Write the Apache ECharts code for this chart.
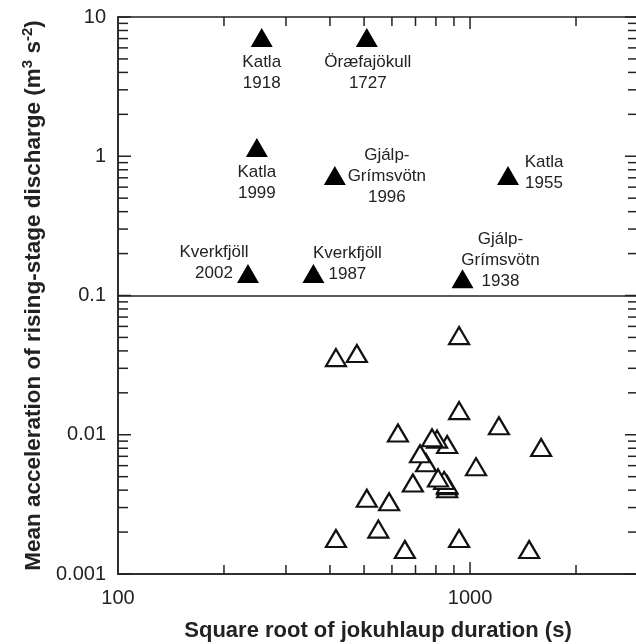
<!DOCTYPE html>
<html><head><meta charset="utf-8">
<script src="https://cdn.jsdelivr.net/npm/echarts@6/dist/echarts.min.js"></script>
<style>html,body{margin:0;padding:0;background:#fff}#c{width:636px;height:644px}</style>
</head><body><div id="c"></div>
<script>
// Named jokulhlaups (filled triangles)
const namedLabels = ['Katla\n1918', 'Öræfajökull\n1727', 'Katla\n1999', 'Gjálp-\nGrímsvötn\n1996', 'Katla\n1955', 'Kverkfjöll\n2002', 'Kverkfjöll\n1987', 'Gjálp-\nGrímsvötn\n1938'];
const namedX = [256, 509, 248, 413, 1282, 234, 359, 952];
const namedY = [7.13, 7.13, 1.156, 0.728, 0.728, 0.144, 0.144, 0.132];
// Other jokulhlaups (open triangles), listed back-to-front
const otherX = [861, 861, 861, 844, 811, 750, 721, 861, 806, 780, 416, 477, 931, 931, 1208, 624, 1592, 1040, 688, 509, 589, 549, 416, 931, 653, 1472];
const otherY = [0.0041, 0.0043, 0.0044, 0.0047, 0.0049, 0.0063, 0.0073, 0.0085, 0.0093, 0.0095, 0.0358, 0.0383, 0.0515, 0.0149, 0.0116, 0.0103, 0.0081, 0.0059, 0.0045, 0.0035, 0.0033, 0.0021, 0.0018, 0.0018, 0.0015, 0.0015];
// Axis ticks and labels
const xTickValues = [100, 1000];
const xTickLabels = ['100', '1000'];
const yTickValues = [0.001, 0.01, 0.1, 1, 10];
const yTickLabels = ['0.001', '0.01', '0.1', '1', '10'];
const xMinorTicks = [200, 300, 400, 500, 600, 700, 800, 900, 2000];
const xMajorTicks = [1000];
const yMajorTicks = [0.001, 0.01, 0.1, 1, 10];
const yMinorTicks = [0.002, 0.003, 0.004, 0.005, 0.006, 0.007, 0.008, 0.009,
  0.02, 0.03, 0.04, 0.05, 0.06, 0.07, 0.08, 0.09,
  0.2, 0.3, 0.4, 0.5, 0.6, 0.7, 0.8, 0.9,
  2, 3, 4, 5, 6, 7, 8, 9];
const thresholdY = 0.1;

// label layout (styling, offsets from symbol centre)
const labelOffsets = {
  'Katla\n1918': [0, 35], 'Öræfajökull\n1727': [1, 35], 'Katla\n1999': [0, 35],
  'Gjálp-\nGrímsvötn\n1996': [52, 1], 'Katla\n1955': [36, -3],
  'Kverkfjöll\n2002': [-34, -11], 'Kverkfjöll\n1987': [34, -10],
  'Gjálp-\nGrímsvötn\n1938': [38, -18]
};

const INK = '#222';
const FONT = 'Liberation Sans, Arial, sans-serif';
function matchLabel(v, vals, labs) {
  for (let i = 0; i < vals.length; i++) {
    if (Math.abs(Math.log10(vals[i]) - Math.log10(v)) < 1e-6) return labs[i];
  }
  return '';
}
function tickSeries(values, axis, len) {
  return {
    type: 'custom', coordinateSystem: 'cartesian2d', silent: true, z: 5,
    data: values.map(v => axis === 'x' ? [v, 1] : [100, v]),
    renderItem(params, api) {
      const cs = params.coordSys;
      const st = { stroke: INK, lineWidth: 1.5 };
      if (axis === 'x') {
        const px = api.coord([api.value(0), 1])[0];
        const b = cs.y + cs.height, t = cs.y;
        return { type: 'group', children: [
          { type: 'line', shape: { x1: px, y1: b, x2: px, y2: b - len }, style: st },
          { type: 'line', shape: { x1: px, y1: t, x2: px, y2: t + len }, style: st }
        ] };
      } else {
        const py = api.coord([100, api.value(1)])[1];
        const l = cs.x, r = cs.x + cs.width;
        return { type: 'group', children: [
          { type: 'line', shape: { x1: l, y1: py, x2: l + len, y2: py }, style: st },
          { type: 'line', shape: { x1: r, y1: py, x2: r - len, y2: py }, style: st }
        ] };
      }
    }
  };
}

const chart = echarts.init(document.getElementById('c'), null, { renderer: 'canvas' });
chart.setOption({
  backgroundColor: '#fff',
  animation: false,
  textStyle: { fontFamily: FONT },
  grid: { left: 118, top: 17, width: 520, height: 557, outerBoundsMode: 'none', containLabel: false,
    show: true, borderColor: INK, borderWidth: 1.5, backgroundColor: 'transparent' },
  xAxis: {
    type: 'log', logBase: 10, min: 100, max: 3000,
    name: 'Square root of jokuhlaup duration (s)', nameLocation: 'middle', nameGap: 46,
    nameTextStyle: { fontSize: 22, fontWeight: 'bold', color: INK, fontFamily: FONT },
    axisLine: { show: true, lineStyle: { color: INK, width: 1.5 } },
    axisTick: { show: false }, splitLine: { show: false },
    axisLabel: { fontSize: 20, color: INK, margin: 14, showMaxLabel: false,
      formatter: v => matchLabel(v, xTickValues, xTickLabels) }
  },
  yAxis: {
    type: 'log', logBase: 10, min: 0.001, max: 10,
    name: 'Mean acceleration of rising-stage discharge (m{sup|3} s{sup|-2})',
    nameLocation: 'middle', nameGap: 70, nameRotate: 90,
    nameTextStyle: { fontSize: 22.5, fontWeight: 'bold', color: INK, fontFamily: FONT,
      rich: { sup: { fontSize: 15, fontWeight: 'bold', color: INK, fontFamily: FONT, verticalAlign: 'top', padding: [0, 0, 12, 0] } } },
    axisLine: { show: true, lineStyle: { color: INK, width: 1.5 } },
    axisTick: { show: false }, splitLine: { show: false },
    axisLabel: { fontSize: 20, color: INK, margin: 12,
      formatter: v => matchLabel(v, yTickValues, yTickLabels) }
  },
  series: [
    tickSeries(xMinorTicks, 'x', 9),
    tickSeries(xMajorTicks, 'x', 12),
    tickSeries(yMinorTicks, 'y', 10),
    tickSeries(yMajorTicks, 'y', 13),
    {
      type: 'scatter', name: 'other', z: 3,
      symbol: 'triangle', symbolSize: [20, 17],
      itemStyle: { color: '#fff', borderColor: '#111', borderWidth: 2.2, opacity: 1 },
      data: otherX.map((x, i) => [x, otherY[i]]),
      markLine: {
        silent: true, symbol: 'none', label: { show: false },
        lineStyle: { color: INK, width: 1.5, type: 'solid' },
        data: [{ yAxis: thresholdY }]
      }
    },
    {
      type: 'scatter', name: 'named', z: 4,
      symbol: 'triangle', symbolSize: [22, 19],
      itemStyle: { color: '#000', opacity: 1 },
      data: namedX.map((x, i) => ({
        value: [x, namedY[i]], name: namedLabels[i],
        label: { offset: labelOffsets[namedLabels[i]] }
      })),
      label: {
        show: true, position: 'inside', align: 'center', verticalAlign: 'middle',
        formatter: p => p.name, fontSize: 17, lineHeight: 21, color: INK, fontFamily: FONT
      }
    }
  ]
});
</script>
</body></html>
